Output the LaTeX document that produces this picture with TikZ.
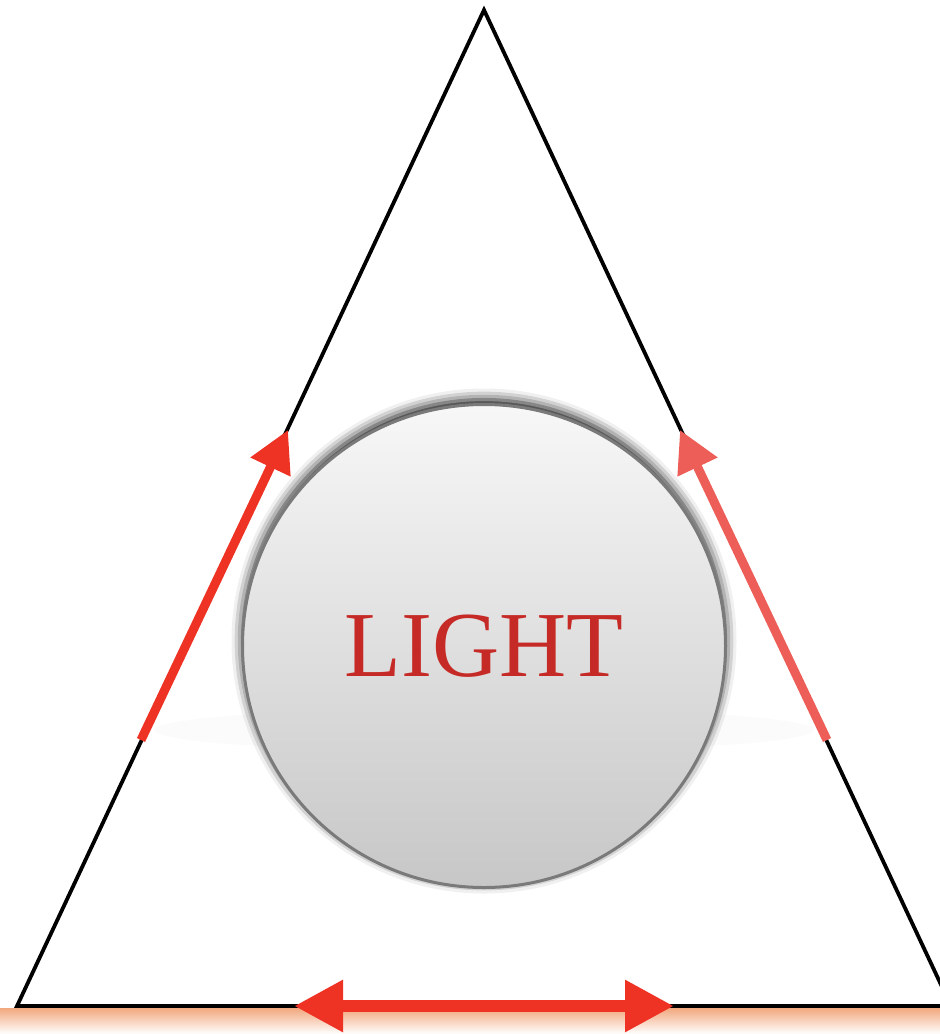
\documentclass[tikz,border=0pt]{standalone}
\usepackage{fontspec}
\newfontfamily\lightfont{Liberation Serif}
\usepackage{tikz}
\usetikzlibrary{arrows.meta,shadows.blur}

\definecolor{arrowred}{HTML}{EE3325}
\definecolor{arrowpink}{HTML}{EC5E57}
\definecolor{textred}{HTML}{C62A26}
\definecolor{glow}{HTML}{F2A87E}

\begin{document}
\begin{tikzpicture}[x=1pt,y=-1pt,
  side/.style={black,line width=3.8pt,line join=miter},
  push/.style={-{Triangle[length=41pt,width=42pt]},line width=9pt},
  base/.style={{Triangle[length=49pt,width=49pt]}-{Triangle[length=49pt,width=49pt]},line width=12pt,arrowred},
  sphere/.style={circle,minimum size=483pt,inner sep=0pt,draw=black!52,line width=3pt,
    top color=black!3,bottom color=black!22,
    blur shadow={shadow xshift=0pt,shadow yshift=5pt,shadow blur radius=11pt,shadow opacity=95},
    font=\lightfont\fontsize{93}{96}\selectfont,text=textred}
]
\useasboundingbox (0,0) rectangle (940,1034);
% glow under the base
\shade[top color=glow,bottom color=white] (0,1008) rectangle (940,1034);
\fill[black,opacity=0.015] (484,730) ellipse (330 and 22);

\coordinate (apex) at (484,10);
\coordinate (left) at (17,1006);
\coordinate (right) at (951,1006);
\draw[side] (apex) -- (left) -- (right) -- cycle;

\node[sphere] (light) at (484,646) {LIGHT};

\coordinate (l0) at (141,740);
\coordinate (l1) at (288,430);
\coordinate (r0) at (827,740);
\coordinate (r1) at (680,430);
\coordinate (b0) at (294,1006);
\coordinate (b1) at (674,1006);
\draw[push,arrowred] (l0) -- (l1);
\draw[push,arrowpink] (r0) -- (r1);
\draw[base] (b0) -- (b1);
\end{tikzpicture}
\end{document}
